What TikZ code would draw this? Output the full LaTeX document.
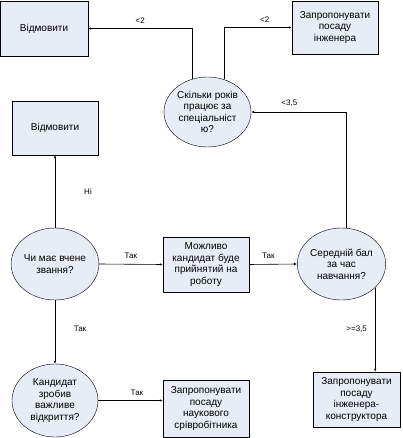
\documentclass[tikz,border=0pt]{standalone}
\usepackage{fontspec}
\setmainfont{Liberation Sans}
\usetikzlibrary{arrows.meta, positioning, shapes.geometric, calc}
\definecolor{blokfill}{HTML}{E8ECF6}

\begin{document}
\begin{tikzpicture}[x=1pt, y=-1pt,
    blok/.style={draw, fill=blokfill, align=center, inner sep=1pt,
      minimum width=86pt, minimum height=55pt,
      font=\fontsize{10}{11.5}\selectfont},
    pytannia/.style={ellipse, draw, fill=blokfill, align=center, inner sep=0pt,
      minimum width=86pt, minimum height=72pt,
      font=\fontsize{10}{11.5}\selectfont},
    strilka/.style={-{Latex[length=3pt, width=2.5pt]}, line width=0.6pt},
    mitka/.style={font=\fontsize{8}{9}\selectfont, inner sep=2pt}]
  \useasboundingbox (0,0) rectangle (402,438);

  \node[blok, minimum width=88pt] (vidm1) at (44,28.5) {Відмовити};
  \node[blok, minimum height=53pt] (inzh) at (335,27.5) {Запропонувати\\посаду\\інженера};
  \node[pytannia, minimum width=87pt, minimum height=70pt] (skilky) at (207.5,112)
    {Скільки років\\працює за\\спеціальніст\\ю?};
  \node[blok, minimum height=54pt] (vidm2) at (55,128) {Відмовити};
  \node[pytannia] (chy) at (55,264) {Чи має вчене\\звання?};
  \node[blok] (mozhlyvo) at (206,264.5) {Можливо\\кандидат буде\\прийнятий на\\роботу};
  \node[pytannia, minimum width=79pt] (seredn) at (341.5,264) {Середній бал\\за час\\навчання?};
  \node[pytannia, minimum height=73pt] (kand) at (55,400.5) {Кандидат\\зробив\\важливе\\відкриття?};
  \node[blok, minimum height=57pt] (naukov) at (206,408.5)
    {Запропонувати\\посаду\\наукового\\срівробітника};
  \node[blok, minimum width=87pt] (konstr) at (356.5,399.5)
    {Запропонувати\\посаду\\інженера-\\конструктора};

  \draw[strilka] (skilky.115) |- (vidm1.east) node[mitka, pos=.75, above=3pt] {<2};
  \draw[strilka] (skilky.63) |- (inzh.west) node[mitka, pos=.8, above=3pt] {<2};
  \draw[strilka] (seredn.82) |- (skilky.east) node[mitka, pos=.8, above=3pt] {<3,5};
  \draw[strilka] (chy.north) -- (vidm2.south) node[mitka, pos=.5, xshift=33pt] {Ні};
  \draw[strilka] (chy.east) -- (mozhlyvo.west) node[mitka, pos=.5, above=3pt] {Так};
  \draw[strilka] (mozhlyvo.east) -- (seredn.west) node[mitka, pos=.4, above=3pt] {Так};
  \draw[strilka] (seredn.-35) -- (seredn.-35 |- konstr.north) node[mitka, pos=.5, left=6pt] {>=3,5};
  \draw[strilka] (chy.south) -- (kand.north) node[mitka, pos=.45, xshift=25pt] {Так};
  \draw[strilka] (kand.east) -- (kand.east -| naukov.west) node[mitka, pos=.6, above=3pt] {Так};
\end{tikzpicture}
\end{document}
